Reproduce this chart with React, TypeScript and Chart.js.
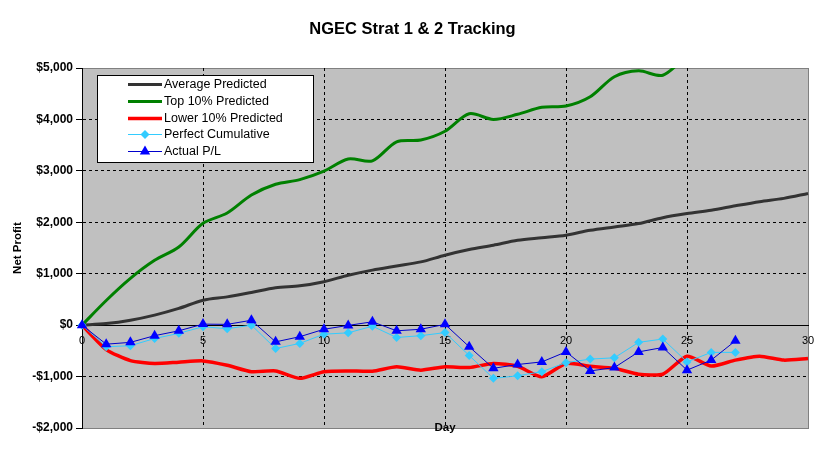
import { useEffect, useRef } from "react";
import { Chart, registerables } from "chart.js";

Chart.register(...registerables);

const FONT = "'Liberation Sans', Arial, sans-serif";

const chartTitle = "NGEC Strat 1 & 2 Tracking";

const days = [0, 1, 2, 3, 4, 5, 6, 7, 8, 9, 10, 11, 12, 13, 14, 15, 16, 17, 18, 19, 20, 21, 22, 23, 24, 25, 26, 27, 28, 29, 30];

const averagePredicted = [0, 30, 95, 195, 325, 485, 550, 635, 725, 765, 845, 970, 1070, 1150, 1230, 1360, 1470, 1555, 1650, 1700, 1750, 1845, 1910, 1975, 2090, 2170, 2235, 2320, 2400, 2465, 2560];

const top10Predicted = [0, 480, 910, 1260, 1520, 1980, 2180, 2530, 2740, 2830, 2995, 3230, 3195, 3565, 3600, 3770, 4110, 4000, 4100, 4235, 4260, 4440, 4830, 4945, 4860, 5250, null, null, null, null, null];

const lower10Predicted = [0, -475, -690, -745, -720, -695, -780, -905, -890, -1035, -905, -890, -895, -810, -875, -810, -825, -745, -800, -1005, -745, -800, -840, -955, -955, -605, -795, -680, -605, -680, -650];

const perfectCumulative = [0, -420, -400, -260, -160, -30, -70, 0, -455, -355, -175, -150, -20, -240, -205, -145, -590, -1035, -985, -905, -730, -660, -635, -335, -270, -715, -530, -530, null, null, null];

const actualPL = [0, -370, -335, -205, -110, 20, 15, 95, -325, -225, -80, -5, 65, -110, -80, 15, -420, -840, -765, -715, -520, -890, -825, -520, -435, -875, -680, -305, null, null, null];

const series = (vals: (number | null)[]) => days.map((d, i) => ({ x: d, y: vals[i] }));

const money = (v: number) => (v < 0 ? "-$" : "$") + Math.abs(v).toLocaleString("en-US");

const plotBackground = {
  id: "plotBackground",
  beforeDraw(chart: any) {
    const { ctx, chartArea: a } = chart;
    ctx.save();
    ctx.fillStyle = "#fff";
    ctx.fillRect(0, 0, chart.width, chart.height);
    ctx.fillStyle = "#C0C0C0";
    ctx.fillRect(a.left, a.top, a.right - a.left, a.bottom - a.top);
    ctx.strokeStyle = "#808080";
    ctx.lineWidth = 1;
    ctx.strokeRect(a.left + 0.5, a.top + 0.5, a.right - a.left, a.bottom - a.top);
    ctx.restore();
  },
};

const boxLegend = {
  id: "boxLegend",
  afterDraw(chart: any) {
    const { ctx, chartArea: a } = chart;
    ctx.save();
    // title centred on the whole picture
    ctx.fillStyle = "#000";
    ctx.font = `bold 16.5px ${FONT}`;
    ctx.textAlign = "center";
    ctx.textBaseline = "middle";
    ctx.fillText(chartTitle, chart.width / 2, 29);

    // x axis title sits on the bottom edge of the plot
    ctx.font = `bold 11.5px ${FONT}`;
    ctx.textBaseline = "alphabetic";
    ctx.fillText("Day", (a.left + a.right) / 2, a.bottom + 3);

    ctx.fillStyle = "#fff";
    ctx.fillRect(97, 75, 216, 87);
    ctx.strokeStyle = "#000";
    ctx.lineWidth = 1;
    ctx.strokeRect(97.5, 75.5, 216, 87);
    ctx.font = `12.5px ${FONT}`;
    ctx.textAlign = "left";
    ctx.textBaseline = "middle";
    chart.data.datasets.forEach((ds: any, i: number) => {
      const y = Math.round(84 + i * 16.75) + 0.5;
      ctx.strokeStyle = ds.borderColor;
      ctx.lineWidth = ds.borderWidth;
      ctx.beginPath();
      ctx.moveTo(128, y);
      ctx.lineTo(162, y);
      ctx.stroke();
      ctx.fillStyle = ds.pointBackgroundColor;
      if (ds.pointStyle === "rectRot") {
        const r = ds.pointRadius;
        ctx.beginPath();
        ctx.moveTo(145 - r, y);
        ctx.lineTo(145, y - r);
        ctx.lineTo(145 + r, y);
        ctx.lineTo(145, y + r);
        ctx.closePath();
        ctx.fill();
      } else if (ds.pointStyle === "triangle") {
        const r = ds.pointRadius;
        ctx.beginPath();
        ctx.moveTo(145, y - r);
        ctx.lineTo(145 + r * 0.866, y + r / 2);
        ctx.lineTo(145 - r * 0.866, y + r / 2);
        ctx.closePath();
        ctx.fill();
      }
      ctx.fillStyle = "#000";
      ctx.fillText(ds.label, 164, y);
    });
    ctx.restore();
  },
};

const App = () => {
  const canvasRef = useRef<HTMLCanvasElement>(null);

  useEffect(() => {
    if (!canvasRef.current) return;
    const chart = new Chart(canvasRef.current, {
      type: "line",
      data: {
        datasets: [
          {
            label: "Average Predicted",
            data: series(averagePredicted),
            borderColor: "#333333",
            borderWidth: 3,
            pointRadius: 0,
            tension: 0.3,
            clip: false,
            order: 5,
          },
          {
            label: "Top 10% Predicted",
            data: series(top10Predicted),
            borderColor: "#008000",
            borderWidth: 3,
            pointRadius: 0,
            tension: 0.3,
            order: 4,
          },
          {
            label: "Lower 10% Predicted",
            data: series(lower10Predicted),
            borderColor: "#FF0000",
            borderWidth: 3.5,
            pointRadius: 0,
            tension: 0.2,
            clip: false,
            order: 3,
          },
          {
            label: "Perfect Cumulative",
            data: series(perfectCumulative),
            borderColor: "#33CCFF",
            borderWidth: 1,
            pointStyle: "rectRot",
            pointRadius: 4.5,
            pointBackgroundColor: "#33CCFF",
            pointBorderColor: "#33CCFF",
            pointBorderWidth: 0,
            clip: false,
            order: 2,
          },
          {
            label: "Actual P/L",
            data: series(actualPL),
            borderColor: "#0000CC",
            borderWidth: 1,
            pointStyle: "triangle",
            pointRadius: 6,
            pointBackgroundColor: "#0000FF",
            pointBorderColor: "#0000FF",
            pointBorderWidth: 0,
            clip: false,
            order: 1,
          },
        ],
      } as any,
      options: {
        animation: false,
        responsive: true,
        maintainAspectRatio: false,
        layout: { padding: { top: 68, left: 0, right: 17, bottom: 26 } },
        font: { family: FONT },
        color: "#000",
        scales: {
          x: {
            type: "linear",
            min: 0,
            max: 30,
            position: { y: 0 } as any,
            ticks: { stepSize: 5, color: "#000", font: { family: FONT, size: 11 }, padding: 9, maxRotation: 0 },
            grid: {
              color: (c: any) => (c.tick && (c.tick.value === 0 || c.tick.value === 30) ? "rgba(0,0,0,0)" : "#000"),
              drawTicks: false,
              lineWidth: 1,
            },
            border: { display: true, color: "#000", width: 1, dash: [3, 3] },
          },
          y: {
            min: -2000,
            max: 5000,
            afterFit: (scale: any) => {
              scale.width = 82;
            },
            ticks: {
              stepSize: 1000,
              color: "#000",
              font: { family: FONT, size: 12, weight: "bold" },
              padding: 3,
              callback: (v: any) => money(Number(v)),
            },
            grid: {
              color: (c: any) =>
                c.tick && (c.tick.value === 0 || c.tick.value === -2000 || c.tick.value === 5000) ? "rgba(0,0,0,0)" : "#000",
              tickColor: "#000",
              tickLength: 6,
              lineWidth: 1,
            },
            border: { display: true, color: "#000", width: 1, dash: [3, 3] },
            title: {
              display: true,
              text: "Net Profit",
              color: "#000",
              font: { family: FONT, size: 11.5, weight: "bold" },
              padding: { top: 11, bottom: 0 },
            },
          },
        },
        plugins: {
          legend: { display: false },
          tooltip: { enabled: false },
          title: { display: false },
        },
      } as any,
      plugins: [plotBackground, boxLegend],
    });
    return () => {
      chart.destroy();
    };
  }, []);

  return (
    <div style={{ position: "fixed", left: 0, top: 0, width: 825, height: 454, background: "#fff" }}>
      <canvas ref={canvasRef} />
    </div>
  );
};

export default App;
